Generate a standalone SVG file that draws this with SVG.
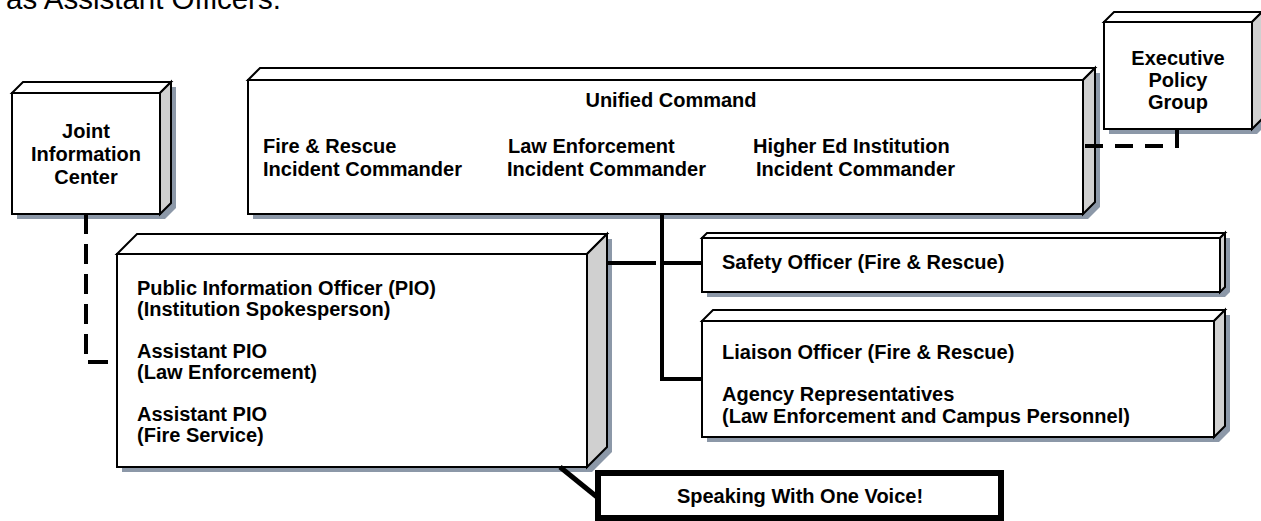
<svg xmlns="http://www.w3.org/2000/svg" width="1261" height="521" viewBox="0 0 1261 521">
<style>
.front{fill:#ffffff;stroke:#000;stroke-width:2;stroke-linejoin:miter}
.top{fill:#ffffff;stroke:#000;stroke-width:2}
.side{fill:#d0d0d0;stroke:#000;stroke-width:2}
.shadow{fill:#8c98a8;stroke:none}
.t{font-family:"Liberation Sans",Arial,sans-serif;font-weight:bold;font-size:20px;fill:#000}
.c{text-anchor:middle}
.conn{fill:none;stroke:#000;stroke-width:4}
.dash{stroke-dasharray:20,10}
</style>
<rect width="1261" height="521" fill="#fff"/>
<text x="6" y="9" font-family="Liberation Sans,Arial,sans-serif" font-size="29.5" fill="#000">as Assistant Officers.</text>

<g id="jic">
<polygon class="shadow" points="17,98 28,87 176,87 176,208 165,219 17,219"/>
<polygon class="top" points="12,93 23,82 171,82 160,93"/>
<polygon class="side" points="160,93 171,82 171,203 160,214"/>
<rect class="front" x="12" y="93" width="148" height="121"/>
<text class="t c" x="86" y="138">Joint</text>
<text class="t c" x="86" y="161">Information</text>
<text class="t c" x="86" y="184">Center</text>
</g>

<g id="unified">
<polygon class="shadow" points="253,85 265,73 1100,73 1100,207 1088,219 253,219"/>
<polygon class="top" points="248,80 260,68 1095,68 1083,80"/>
<polygon class="side" points="1083,80 1095,68 1095,202 1083,214"/>
<rect class="front" x="248" y="80" width="835" height="134"/>
<text class="t c" x="671" y="107">Unified Command</text>
<text class="t" x="263" y="153">Fire &amp; Rescue</text>
<text class="t" x="263" y="176">Incident Commander</text>
<text class="t" x="508" y="153">Law Enforcement</text>
<text class="t" x="507" y="176">Incident Commander</text>
<text class="t" x="753" y="153">Higher Ed Institution</text>
<text class="t" x="756" y="176">Incident Commander</text>
</g>

<g id="epg">
<polygon class="shadow" points="1109,27 1119,17 1267,17 1267,124 1257,134 1109,134"/>
<polygon class="top" points="1104,22 1114,12 1262,12 1252,22"/>
<polygon class="side" points="1252,22 1262,12 1262,119 1252,129"/>
<rect class="front" x="1104" y="22" width="148" height="107"/>
<text class="t c" x="1178" y="65">Executive</text>
<text class="t c" x="1178" y="87">Policy</text>
<text class="t c" x="1178" y="109">Group</text>
</g>

<g id="pio">
<polygon class="shadow" points="122,259 142,239 612,239 612,452 592,472 122,472"/>
<polygon class="top" points="117,254 137,234 607,234 587,254"/>
<polygon class="side" points="587,254 607,234 607,447 587,467"/>
<rect class="front" x="117" y="254" width="470" height="213"/>
<text class="t" x="137" y="295">Public Information Officer (PIO)</text>
<text class="t" x="137" y="316">(Institution Spokesperson)</text>
<text class="t" x="137" y="358">Assistant PIO</text>
<text class="t" x="137" y="379">(Law Enforcement)</text>
<text class="t" x="137" y="421">Assistant PIO</text>
<text class="t" x="137" y="442">(Fire Service)</text>
</g>

<g id="safety">
<polygon class="shadow" points="707,243 712,238 1230,238 1230,292 1225,297 707,297"/>
<polygon class="top" points="702,238 707,233 1225,233 1220,238"/>
<polygon class="side" points="1220,238 1225,233 1225,287 1220,292"/>
<rect class="front" x="702" y="238" width="518" height="54"/>
<text class="t" x="722" y="269">Safety Officer (Fire &amp; Rescue)</text>
</g>

<g id="liaison">
<polygon class="shadow" points="707,326 718,315 1230,315 1230,431 1219,442 707,442"/>
<polygon class="top" points="702,321 713,310 1225,310 1214,321"/>
<polygon class="side" points="1214,321 1225,310 1225,426 1214,437"/>
<rect class="front" x="702" y="321" width="512" height="116"/>
<text class="t" x="722" y="359">Liaison Officer (Fire &amp; Rescue)</text>
<text class="t" x="722" y="401">Agency Representatives</text>
<text class="t" x="722" y="423">(Law Enforcement and Campus Personnel)</text>
</g>

<g id="connectors">
<path class="conn dash" d="M86,214 V362 H117"/>
<path class="conn" style="stroke-dasharray:18,12" d="M1085,146 H1177 V129"/>
<path class="conn" d="M662,214 V379 H702"/>
<path class="conn" d="M607,263 H656"/>
<path class="conn" d="M662,263 H702"/>
<path class="conn" style="stroke-width:5" d="M560,467 L597,497"/>
</g>

<g id="speaking">
<rect x="598" y="473" width="403" height="45" fill="#fff" stroke="#000" stroke-width="6"/>
<text class="t c" x="800" y="503">Speaking With One Voice!</text>
</g>
</svg>
